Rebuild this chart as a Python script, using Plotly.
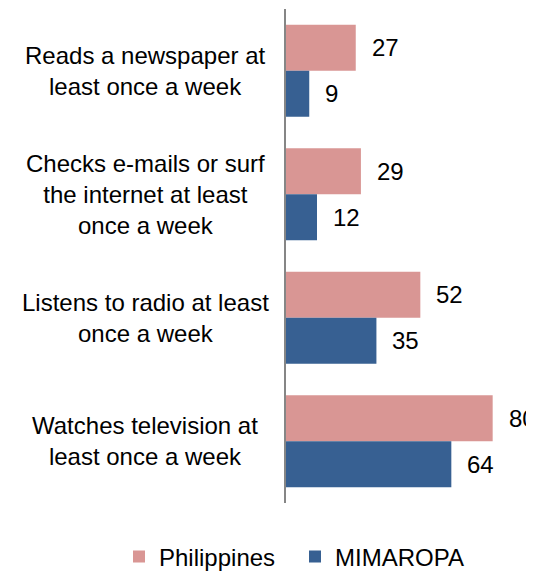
import plotly.graph_objects as go

categories = [
    "Reads a newspaper at<br>least once a week",
    "Checks e-mails or surf<br>the internet at least<br>once a week",
    "Listens to radio at least<br>once a week",
    "Watches television at<br>least once a week",
]
philippines = [27, 29, 52, 80]
mimaropa = [9, 12, 35, 64]
series_names = ["Philippines", "MIMAROPA"]
colors = ["#D99694", "#376092"]

FONT = "Liberation Sans, Arial, sans-serif"
FS = 24

fig = go.Figure()
for name, vals, col in zip(series_names, [philippines, mimaropa], colors):
    fig.add_trace(go.Bar(
        y=categories, x=vals, name=name, orientation="h",
        marker=dict(color=col, line=dict(width=0)),
        hoverinfo="x+name",
    ))

# value labels
for vals, off in [(philippines, -0.185), (mimaropa, 0.185)]:
    for i, v in enumerate(vals):
        fig.add_annotation(
            x=v, y=i + off, xref="x", yref="y",
            text=str(v), showarrow=False, xanchor="left", yanchor="middle",
            xshift=14, font=dict(family=FONT, size=FS, color="#000000"),
        )

# page has an 8px body offset
OFF = 8
PLOT_TOP, PLOT_BOTTOM = 9, 503          # page pixels
W, H = 534, 600
L, R = 286 - OFF, OFF
T = PLOT_TOP - OFF
ph = PLOT_BOTTOM - PLOT_TOP
B = H - T - ph
pw = W - L - R
# category labels, centred multi-line
for c in categories:
    fig.add_annotation(
        x=(145 - OFF - L) / pw, xref="paper", y=c, yref="y",
        text=c, showarrow=False, xanchor="center", yanchor="middle",
        align="center", font=dict(family=FONT, size=FS, color="#000000"),
    )

fig.update_layout(
    width=W, height=H,
    margin=dict(l=L, r=R, t=T, b=B, pad=0),
    paper_bgcolor="white", plot_bgcolor="white",
    barmode="group", bargap=0.255, bargroupgap=0,
    showlegend=True,
    legend=dict(
        orientation="h", x=(119 - OFF - L) / pw, xanchor="left",
        y=(PLOT_BOTTOM - 557) / ph, yanchor="middle",
        font=dict(family=FONT, size=FS, color="#000000"),
        traceorder="normal", itemsizing="constant",
        entrywidth=131, entrywidthmode="pixels",
        bgcolor="rgba(0,0,0,0)",
    ),
    font=dict(family=FONT, size=FS, color="#000000"),
)
fig.update_xaxes(range=[0, 96], visible=False, fixedrange=True)
fig.update_yaxes(
    autorange="reversed", showticklabels=False, ticks="",
    showline=True, linecolor="#868686", linewidth=2,
    showgrid=False, zeroline=False, fixedrange=True,
)

fig.write_html("out.html")
